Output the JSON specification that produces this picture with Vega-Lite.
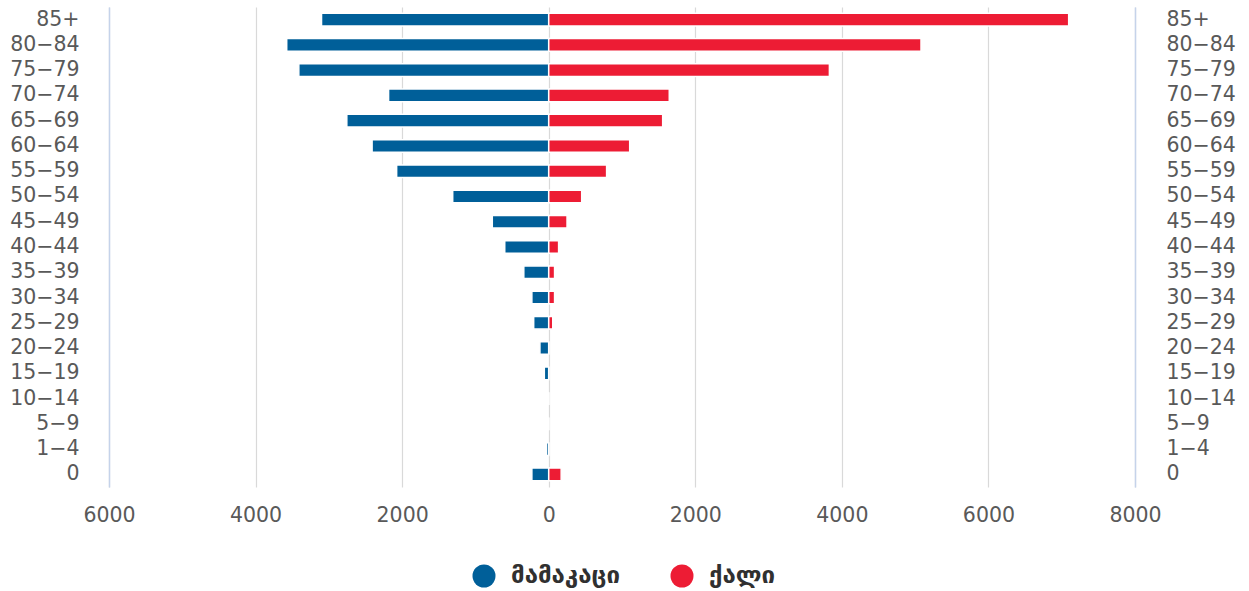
{
  "$schema": "https://vega.github.io/schema/vega-lite/v6.json",
  "autosize": "none",
  "width": 1026,
  "height": 480,
  "padding": {"left": 109, "top": 7, "right": 114, "bottom": 104},
  "background": "white",
  "config": {
    "view": {"stroke": null},
    "font": "DejaVu Sans",
    "axis": {"labelFont": "DejaVu Sans", "labelColor": "#595959", "labelFontSize": 20.5, "ticks": false}
  },
  "data": {
    "values": [
      {"age": "85+", "sex": "მამაკაცი", "value": -3100},
      {"age": "80−84", "sex": "მამაკაცი", "value": -3575},
      {"age": "75−79", "sex": "მამაკაცი", "value": -3410},
      {"age": "70−74", "sex": "მამაკაცი", "value": -2185},
      {"age": "65−69", "sex": "მამაკაცი", "value": -2755},
      {"age": "60−64", "sex": "მამაკაცი", "value": -2410},
      {"age": "55−59", "sex": "მამაკაცი", "value": -2075},
      {"age": "50−54", "sex": "მამაკაცი", "value": -1310},
      {"age": "45−49", "sex": "მამაკაცი", "value": -770},
      {"age": "40−44", "sex": "მამაკაცი", "value": -600},
      {"age": "35−39", "sex": "მამაკაცი", "value": -340},
      {"age": "30−34", "sex": "მამაკაცი", "value": -230},
      {"age": "25−29", "sex": "მამაკაცი", "value": -205},
      {"age": "20−24", "sex": "მამაკაცი", "value": -120},
      {"age": "15−19", "sex": "მამაკაცი", "value": -60},
      {"age": "10−14", "sex": "მამაკაცი", "value": 0},
      {"age": "5−9", "sex": "მამაკაცი", "value": 0},
      {"age": "1−4", "sex": "მამაკაცი", "value": -30},
      {"age": "0", "sex": "მამაკაცი", "value": -230},
      {"age": "85+", "sex": "ქალი", "value": 7095},
      {"age": "80−84", "sex": "ქალი", "value": 5080},
      {"age": "75−79", "sex": "ქალი", "value": 3830},
      {"age": "70−74", "sex": "ქალი", "value": 1645},
      {"age": "65−69", "sex": "ქალი", "value": 1555},
      {"age": "60−64", "sex": "ქალი", "value": 1105},
      {"age": "55−59", "sex": "ქალი", "value": 790},
      {"age": "50−54", "sex": "ქალი", "value": 450},
      {"age": "45−49", "sex": "ქალი", "value": 250},
      {"age": "40−44", "sex": "ქალი", "value": 135},
      {"age": "35−39", "sex": "ქალი", "value": 80},
      {"age": "30−34", "sex": "ქალი", "value": 80},
      {"age": "25−29", "sex": "ქალი", "value": 55},
      {"age": "20−24", "sex": "ქალი", "value": 0},
      {"age": "15−19", "sex": "ქალი", "value": 0},
      {"age": "10−14", "sex": "ქალი", "value": 0},
      {"age": "5−9", "sex": "ქალი", "value": 0},
      {"age": "1−4", "sex": "ქალი", "value": 0},
      {"age": "0", "sex": "ქალი", "value": 170}
    ]
  },
  "encoding": {
    "y": {
      "field": "age",
      "type": "ordinal",
      "sort": ["85+", "80−84", "75−79", "70−74", "65−69", "60−64", "55−59", "50−54", "45−49", "40−44", "35−39", "30−34", "25−29", "20−24", "15−19", "10−14", "5−9", "1−4", "0"],
      "scale": {"paddingInner": 0.5, "paddingOuter": 0.25}
    },
    "x": {
      "field": "value",
      "type": "quantitative",
      "scale": {"domain": [-6000, 8000], "nice": false, "zero": true},
      "axis": {
        "title": null,
        "values": [-6000, -4000, -2000, 0, 2000, 4000, 6000, 8000],
        "labelExpr": "format(abs(datum.value), 'd')",
        "labelFlush": false,
        "labelOverlap": false,
        "labelBound": false,
        "domain": false,
        "grid": true,
        "gridColor": "#d9d9d9",
        "gridWidth": 1.2,
        "labelPadding": 18
      }
    },
    "color": {
      "field": "sex",
      "type": "nominal",
      "scale": {"domain": ["მამაკაცი", "ქალი"], "range": ["#005f99", "#ed1c34"]},
      "legend": {
        "title": null,
        "orient": "none",
        "direction": "horizontal",
        "legendX": 363,
        "legendY": 557,
        "padding": 0,
        "symbolType": "circle",
        "symbolSize": 529,
        "symbolStrokeWidth": 0,
        "labelFont": "DejaVu Sans",
        "labelFontSize": 24,
        "labelFontWeight": "bold",
        "labelColor": "#303030",
        "labelOffset": 15,
        "columnPadding": 50
      }
    }
  },
  "layer": [
    {
      "transform": [{"filter": "datum.sex == 'მამაკაცი'"}],
      "mark": {"type": "bar", "stroke": "white", "strokeWidth": 1.5},
      "encoding": {
        "y": {
          "field": "age",
          "type": "ordinal",
          "sort": ["85+", "80−84", "75−79", "70−74", "65−69", "60−64", "55−59", "50−54", "45−49", "40−44", "35−39", "30−34", "25−29", "20−24", "15−19", "10−14", "5−9", "1−4", "0"],
          "axis": {
            "title": null,
            "orient": "left",
            "labelAlign": "right",
            "labelPadding": 30,
            "domain": true,
            "domainColor": "#c5d3ea",
            "domainWidth": 1.5
          }
        }
      }
    },
    {
      "transform": [{"filter": "datum.sex == 'ქალი'"}],
      "mark": {"type": "bar", "stroke": "white", "strokeWidth": 1.5},
      "encoding": {
        "y": {
          "field": "age",
          "type": "ordinal",
          "sort": ["85+", "80−84", "75−79", "70−74", "65−69", "60−64", "55−59", "50−54", "45−49", "40−44", "35−39", "30−34", "25−29", "20−24", "15−19", "10−14", "5−9", "1−4", "0"],
          "axis": {
            "title": null,
            "orient": "right",
            "labelAlign": "left",
            "labelPadding": 31,
            "domain": true,
            "domainColor": "#c5d3ea",
            "domainWidth": 1.5
          }
        }
      }
    }
  ],
  "resolve": {"axis": {"y": "independent"}}
}
